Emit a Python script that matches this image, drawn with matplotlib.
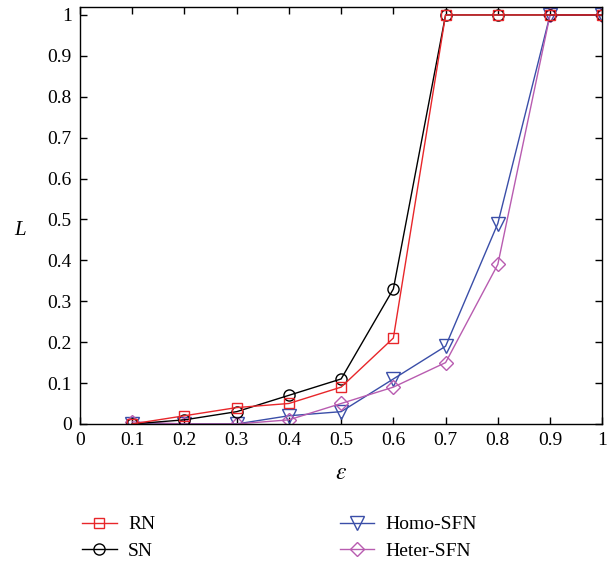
import numpy as np
import matplotlib.pyplot as plt

plt.rcParams['font.family'] = ['Liberation Serif', 'DejaVu Serif']
plt.rcParams['mathtext.fontset'] = 'stix'

eps = [0.1, 0.2, 0.3, 0.4, 0.5, 0.6, 0.7, 0.8, 0.9, 1.0]
rn = [0.0, 0.02, 0.04, 0.05, 0.09, 0.21, 1.0, 1.0, 1.0, 1.0]
sn = [0.0, 0.01, 0.03, 0.07, 0.11, 0.33, 1.0, 1.0, 1.0, 1.0]
homo = [0.0, 0.0, 0.0, 0.02, 0.03, 0.11, 0.19, 0.49, 1.0, 1.0]
heter = [0.005, 0.0, 0.0, 0.01, 0.05, 0.09, 0.15, 0.39, 1.0, 1.0]

fig = plt.figure(figsize=(6.13, 5.63), dpi=100)
ax = fig.add_axes([0.1305, 0.247, 0.852, 0.741])

ax.plot(eps, homo, marker='v', color='#3a4ea8', mfc='none', ms=9.5, lw=1, mew=1, label='Homo-SFN')
ax.plot(eps, heter, marker='D', color='#b85cb0', mfc='none', ms=7, lw=1, mew=1, label='Heter-SFN')
ax.plot(eps, sn, marker='o', color='black', mfc='none', ms=8, lw=1, mew=1, label='SN')
ax.plot(eps, rn, marker='s', color='#e8262a', mfc='none', ms=7, lw=1, mew=1, label='RN')

ax.set_xlim(0, 1)
ax.set_ylim(0, 1.02)
ax.set_xticks(np.arange(0, 1.01, 0.1))
ax.set_xticklabels(['0', '0.1', '0.2', '0.3', '0.4', '0.5', '0.6', '0.7', '0.8', '0.9', '1'])
ax.set_yticks(np.arange(0, 1.01, 0.1))
ax.set_yticklabels(['0', '0.1', '0.2', '0.3', '0.4', '0.5', '0.6', '0.7', '0.8', '0.9', '1'])
ax.tick_params(direction='in', top=True, right=True, labelsize=14, length=5, width=1, pad=6)
for s in ax.spines.values():
    s.set_linewidth(1)

ax.set_xlabel(r'$\varepsilon$', fontsize=17, labelpad=10)
ax.set_ylabel('L', fontsize=15, style='italic', rotation=0, labelpad=18)
ax.yaxis.set_label_coords(-0.115, 0.44)

h, l = ax.get_legend_handles_labels()
order = [3, 2, 0, 1]
fig.legend([h[i] for i in order], [l[i] for i in order], ncol=2, frameon=False,
           loc='upper left', bbox_to_anchor=(0.106, 0.115), fontsize=14,
           columnspacing=9.5, handlelength=1.75, handletextpad=0.6, labelspacing=0.45)

fig.savefig('out.png', dpi=100)
